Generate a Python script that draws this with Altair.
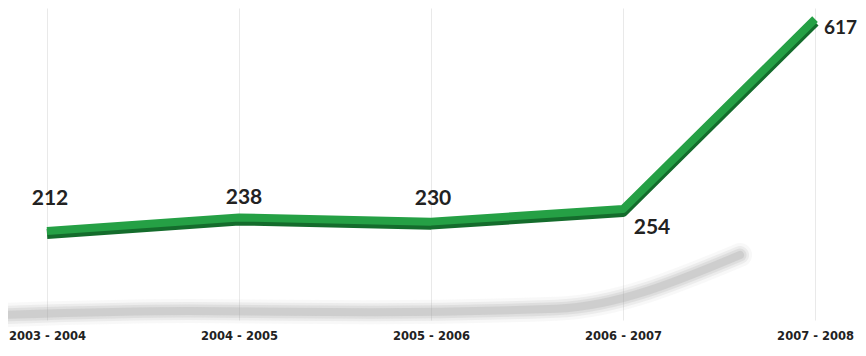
import altair as alt
import pandas as pd

periods = ["2003 - 2004", "2004 - 2005", "2005 - 2006", "2006 - 2007", "2007 - 2008"]
values = [212, 238, 230, 254, 617]

df = pd.DataFrame({"period": periods, "value": values, "idx": list(range(len(periods)))})

W, H = 836, 312
label_expr = "[" + ",".join(f"'{p}'" for p in periods) + "][datum.value]"
x = alt.X("idx:Q", scale=alt.Scale(domain=[-0.177, 4.177], nice=False, zero=False),
          axis=alt.Axis(title=None, grid=True, gridColor="#e9e9e9", gridWidth=1,
                        values=list(range(len(periods))), labelExpr=label_expr,
                        domain=False, ticks=False, labelAngle=0,
                        labelFont="DejaVu Sans", labelFontWeight="bold",
                        labelFontSize=11.5, labelColor="#222", labelPadding=10))
y = alt.Y("value:Q", scale=alt.Scale(domain=[44, 640], zero=False, nice=False), axis=None)

base = alt.Chart(df)

# soft grey floor shadow (the line projected onto the floor)
xs = alt.X("idx:Q", scale=alt.Scale(domain=[0.0435, 4.593], nice=False, zero=False), axis=None)
ys = alt.Y("value:Q", scale=alt.Scale(domain=[178, 2285], zero=False, nice=False), axis=None)
shadows = [
    base.mark_line(color="#a0a0a0", strokeWidth=w, opacity=o, strokeCap="round",
                   interpolate="monotone").encode(x=xs, y=ys)
    for w, o in [(24, 0.08), (18, 0.12), (13, 0.18), (8, 0.25)]
]
shadow = alt.layer(*shadows)

dark = base.mark_line(color="#146c2c", strokeWidth=10, strokeJoin="round",
                      strokeCap="butt", yOffset=2).encode(x=x, y=y)
mid = base.mark_line(color="#25a045", strokeWidth=8, strokeJoin="round",
                     strokeCap="butt", yOffset=-1).encode(x=x, y=y)

font = dict(font="Lato", fontWeight="bold", color="#222")
def lab(i, size=21, **kw):
    return base.transform_filter(f"datum.idx == {i}").mark_text(
        fontSize=size, **font, **kw).encode(x=x, y=y, text="value:Q")

labels = [
    lab(0, dy=-33, dx=3, align="center"),
    lab(1, dy=-20, dx=5, align="center"),
    lab(2, dy=-24, dx=2, align="center"),
    lab(3, dy=18, dx=29, align="center"),
    lab(4, size=19, dy=8, dx=9, align="left"),
]

line = alt.layer(dark, mid, *labels)

chart = alt.layer(shadow, line).resolve_scale(x="independent", y="independent").properties(
    width=W, height=H,
    background="white",
    autosize=alt.AutoSizeParams(type="none"),
    padding={"left": 5, "top": 0, "right": 9, "bottom": 28},
).configure_view(stroke=None, strokeWidth=0)

chart.save("out.html", embed_options={"renderer": "svg", "actions": False})
